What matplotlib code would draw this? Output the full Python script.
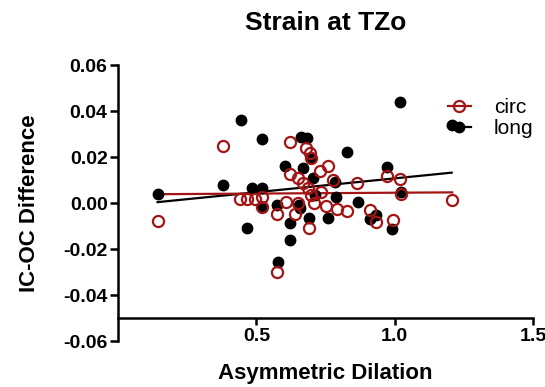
import numpy as np
import matplotlib.pyplot as plt

plt.rcParams['font.family'] = ['Liberation Sans', 'DejaVu Sans']

# long (filled black)
long_x = [0.143, 0.443, 0.521, 0.661, 0.683, 0.826, 0.605, 0.669, 0.696, 0.972,
          0.378, 0.483, 0.519, 0.705, 0.783, 1.024, 0.789, 0.867, 0.573, 0.653,
          0.519, 0.465, 0.621, 0.621, 0.691, 0.759, 0.934, 0.910, 0.992, 0.577,
          1.018, 1.206, 0.711, 0.657]
long_y = [0.0039, 0.0360, 0.0277, 0.0288, 0.0281, 0.0223, 0.0161, 0.0154, 0.0194, 0.0155,
          0.0078, 0.0067, 0.0067, 0.0107, 0.0090, 0.0046, 0.0027, 0.0003, -0.0009, -0.0009,
          -0.0016, -0.0110, -0.0088, -0.0161, -0.0064, -0.0064, -0.0052, -0.0070, -0.0113, -0.0255,
          0.0438, 0.0340, 0.0035, -0.0023]

# circ (open red)
circ_x = [0.378, 0.623, 0.681, 0.693, 0.699, 0.759, 0.729, 0.621, 0.651, 0.777,
          0.864, 0.972, 1.018, 1.024, 0.669, 0.687, 0.735, 0.699, 0.440, 0.467,
          0.495, 0.519, 0.522, 0.609, 0.651, 0.709, 0.753, 0.792, 0.828, 0.575,
          0.639, 0.910, 0.934, 0.994, 0.691, 0.575, 0.143, 1.208]
circ_y = [0.0249, 0.0264, 0.0241, 0.0216, 0.0197, 0.0162, 0.0139, 0.0125, 0.0110, 0.0100,
          0.0086, 0.0117, 0.0104, 0.0038, 0.0086, 0.0067, 0.0049, 0.0035, 0.0016, 0.0016,
          0.0016, 0.0027, -0.0016, 0.0006, -0.0001, -0.0001, -0.0013, -0.0026, -0.0035, -0.0048,
          -0.0049, -0.0030, -0.0084, -0.0074, -0.0110, -0.0301, -0.0077, 0.0013]

x_ticks = [0.5, 1.0, 1.5]
y_ticks = [-0.06, -0.04, -0.02, 0.00, 0.02, 0.04, 0.06]

RED = '#a31515'

fig = plt.figure(figsize=(5.45, 3.87), dpi=100)
ax = fig.add_axes([118/545, 46/387, 415/545, 276/387])

# fit lines over each series' x-range
def fit_line(x, y):
    x = np.array(x)
    p = np.polyfit(x, np.array(y), 1)
    xs = np.array([x.min(), x.max()])
    return xs, np.polyval(p, xs)

lx, ly = fit_line(long_x, long_y)
cx, cy = fit_line(circ_x, circ_y)

ax.plot(long_x, long_y, 'o', color='black', ms=7.5, zorder=3)
ax.plot(lx, ly, '-', color='black', lw=1.6, zorder=2)
ax.plot(circ_x, circ_y, 'o', mfc='none', mec=RED, mew=1.6, ms=8, zorder=4)
ax.plot(cx, cy, '-', color=RED, lw=1.6, zorder=2)

# legend handles
h_circ, = ax.plot([], [], '-o', color=RED, mfc='none', mec=RED, mew=1.6, ms=8, lw=1.6)
h_long, = ax.plot([], [], '-o', color='black', ms=7.5, lw=1.6)
ax.legend([h_circ, h_long], ['circ', 'long'], loc='upper left',
          bbox_to_anchor=(0.795, 0.88), frameon=False, numpoints=1,
          handlelength=1.1, handletextpad=1.1, borderpad=0, borderaxespad=0,
          labelspacing=0.1, prop={'size': 15})

ax.set_xlim(0, 1.5)
ax.set_ylim(-0.06, 0.06)
ax.spines['top'].set_visible(False)
ax.spines['right'].set_visible(False)
ax.spines['bottom'].set_position(('data', -0.05))
for s in ('left', 'bottom'):
    ax.spines[s].set_linewidth(1.8)

ax.set_xticks(x_ticks)
ax.set_xticklabels(['%.1f' % v for v in x_ticks])
ax.set_yticks(y_ticks)
ax.set_yticklabels(['%.2f' % v for v in y_ticks])
ax.tick_params(axis='y', length=6, width=1.8, pad=1.5, labelsize=14)
ax.tick_params(axis='x', length=5, width=1.8, pad=2.5, labelsize=14)
for lab in ax.get_xticklabels() + ax.get_yticklabels():
    lab.set_fontweight('bold')

fig.text(326/545, 1 - 23/387, 'Strain at TZo', ha='center', va='center',
         fontsize=19, fontweight='bold')
fig.text(325.5/545, 1 - 374/387, 'Asymmetric Dilation', ha='center', va='center',
         fontsize=16, fontweight='bold')
fig.text(30/545, 1 - 203/387, 'IC-OC Difference', ha='center', va='center',
         rotation=90, fontsize=16, fontweight='bold')

fig.savefig('out.png', dpi=100)
